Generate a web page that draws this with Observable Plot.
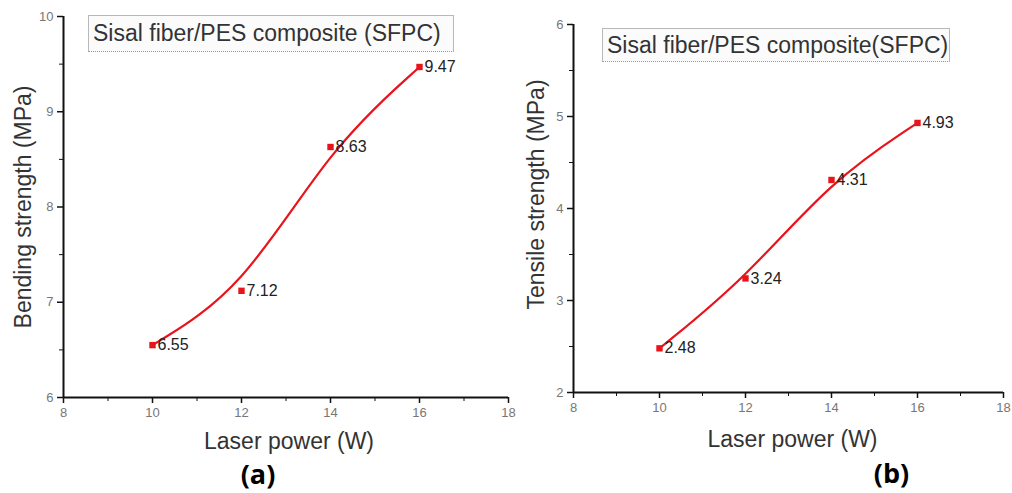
<!DOCTYPE html>
<html>
<head>
<meta charset="utf-8">
<script src="https://cdn.jsdelivr.net/npm/d3@7"></script>
<script src="https://cdn.jsdelivr.net/npm/@observablehq/plot@0.6"></script>
<style>
  html, body { margin: 0; padding: 0; background: #fff; }
  #wrap { position: relative; width: 1012px; height: 493px; overflow: hidden; font-family: "Liberation Sans", Arial, sans-serif; }
  .panel { position: absolute; top: 0; }
  .legend { position: absolute; box-sizing: border-box; background: #fbfbfb; border: 1px solid #b8b8b8; border-bottom: 1px dotted #999;
            color: #333; font-size: 23px; line-height: 34px; padding-left: 4px; white-space: nowrap; font-family: "Liberation Sans", Arial, sans-serif; }
</style>
</head>
<body>
<div id="wrap"></div>
<script>
// ---- data ----
const power = [10, 12, 14, 16];
const bending = [6.55, 7.12, 8.63, 9.47];
const tensile = [2.48, 3.24, 4.31, 4.93];
const xTicks = [8, 10, 12, 14, 16, 18];
const xMinorTicks = [9, 11, 13, 15, 17];
const bendingTicks = [6, 7, 8, 9, 10];
const bendingMinorTicks = [6.5, 7.5, 8.5, 9.5];
const tensileTicks = [2, 3, 4, 5, 6];
const tensileMinorTicks = [2.5, 3.5, 4.5, 5.5];
const xTitle = "Laser power (W)";
const bendingTitle = "Bending strength (MPa)";
const tensileTitle = "Tensile strength (MPa)";
const legendA = "Sisal fiber/PES composite (SFPC)";
const legendB = "Sisal fiber/PES composite(SFPC)";

const RED = "#e8131b";
const FONT = "Liberation Sans, Arial, sans-serif";

function panel(o) {
  const data = power.map((p, i) => ({x: p, y: o.values[i]}));
  return Plot.plot({
    width: o.width, height: 493,
    marginLeft: o.ml, marginRight: o.mr, marginTop: o.mt, marginBottom: o.mb,
    style: {fontFamily: FONT, background: "transparent"},
    x: {domain: [xTicks[0], xTicks[xTicks.length - 1]]},
    y: {domain: [o.yTicks[0], o.yTicks[o.yTicks.length - 1]]},
    marks: [
      Plot.axisX({ticks: xTicks, tickFormat: d => String(d), tickSize: 6, tickPadding: 4, fontSize: 13, fill: "#777", stroke: "#111", strokeWidth: 1.5, label: null}),
      Plot.axisX({ticks: xMinorTicks, tickSize: 4, tickFormat: () => "", stroke: "#111", label: null}),
      Plot.axisY({ticks: o.yTicks, tickFormat: d => String(d), tickSize: 6, tickPadding: 4, fontSize: 13, fill: "#777", stroke: "#111", strokeWidth: 1.5, label: null}),
      Plot.axisY({ticks: o.yMinor, tickSize: 4, tickFormat: () => "", stroke: "#111", label: null}),
      Plot.ruleY([o.yTicks[0]], {stroke: "#111", strokeWidth: 2}),
      Plot.ruleX([xTicks[0]], {stroke: "#111", strokeWidth: 2}),
      Plot.line(data, {x: "x", y: "y", curve: "basis", stroke: RED, strokeWidth: 2.2}),
      Plot.dot(data, {x: "x", y: "y", symbol: "square", r: 3.6, fill: RED, stroke: "none"}),
      Plot.text(data, {x: "x", y: "y", text: d => d.y.toFixed(2), textAnchor: "start", dx: 5, fontSize: 16, fill: "#222"}),
      Plot.text([o.yTitle], {frameAnchor: "left", textAnchor: "middle", lineAnchor: "middle", rotate: -90, dx: o.yTitleDx, dy: o.yTitleDy, fontSize: 23, fill: "#333"}),
      Plot.text([xTitle], {frameAnchor: "bottom", textAnchor: "middle", lineAnchor: "middle", dx: o.xTitleDx, dy: o.xTitleDy, fontSize: 23, fill: "#333"}),
      Plot.text([o.tag], {frameAnchor: "bottom", textAnchor: "middle", lineAnchor: "middle", dx: o.tagDx, dy: o.tagDy, fontSize: 27, fontWeight: "bold", fontFamily: "Open Sans, sans-serif", fill: "#000"})
    ]
  });
}

const wrap = document.getElementById("wrap");

const a = panel({values: bending, yTicks: bendingTicks, yMinor: bendingMinorTicks, yTitle: bendingTitle, tag: "(a)",
  width: 520, ml: 63, mr: 12, mt: 16, mb: 96,
  yTitleDx: -40, yTitleDy: 0, xTitleDx: 3, xTitleDy: 44, tagDx: -28, tagDy: 78});
a.classList.add("panel"); a.style.left = "0px";
wrap.appendChild(a);

const b = panel({values: tensile, yTicks: tensileTicks, yMinor: tensileMinorTicks, yTitle: tensileTitle, tag: "(b)",
  width: 492, ml: 53, mr: 9, mt: 24, mb: 101,
  yTitleDx: -37, yTitleDy: -14, xTitleDx: 4, xTitleDy: 47, tagDx: 103, tagDy: 82});
b.classList.add("panel"); b.style.left = "520px";
wrap.appendChild(b);

function legend(text, left, top, w, h) {
  const d = document.createElement("div");
  d.className = "legend";
  d.textContent = text;
  Object.assign(d.style, {left: left + "px", top: top + "px", width: w + "px", height: h + "px", lineHeight: (h - 2) + "px"});
  wrap.appendChild(d);
}
legend(legendA, 88, 15, 366, 37);
legend(legendB, 602, 28, 348, 34);
</script>
</body>
</html>
